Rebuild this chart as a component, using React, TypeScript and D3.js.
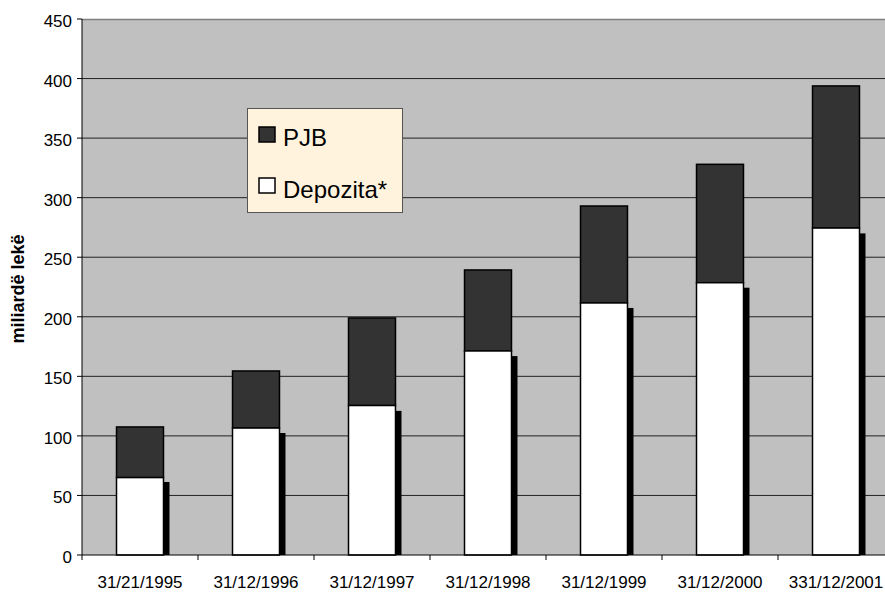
import React from "react";
import * as d3 from "d3";

const categories = ["31/21/1995", "31/12/1996", "31/12/1997", "31/12/1998", "31/12/1999", "31/12/2000", "331/12/2001"];
const depozita = [65, 106.6, 125.5, 171.3, 211.6, 228.6, 274.5];
const pjbTotal = [107.5, 154.5, 199, 239.3, 293, 328, 393.8];
const shadow = [61.3, 102.4, 121, 167, 207.4, 224.4, 270];
const yTicks = [0, 50, 100, 150, 200, 250, 300, 350, 400, 450];

const W = 885;
const H = 593;
const M = { left: 82, top: 19, right: 894, bottom: 555 };
const font = "'Liberation Sans', Arial, sans-serif";

export default function App() {
  const x = d3.scaleBand<string>().domain(categories).range([M.left, M.right]).paddingInner(0.595).paddingOuter(0.2975);
  const y = d3.scaleLinear().domain([0, 450]).range([M.bottom, M.top]);
  const bw = x.bandwidth();
  const step = x.step();
  const off = 6;
  return (
    <svg width={W} height={H} style={{ position: "absolute", left: 0, top: 0 }} fontFamily={font}>
      <rect x={M.left} y={M.top} width={M.right - M.left} height={M.bottom - M.top} fill="#C0C0C0" />
      <line x1={M.left} x2={M.right} y1={M.top + 0.5} y2={M.top + 0.5} stroke="#808080" strokeWidth={1.5} />
      {yTicks.filter((t) => t > 0 && t < 450).map((t) => (
        <line key={t} x1={M.left} x2={M.right} y1={y(t)} y2={y(t)} stroke="#222" strokeWidth={1} />
      ))}
      {categories.map((c, i) => {
        const bx = x(c)!;
        return (
          <g key={c}>
            <rect x={bx + off} y={y(shadow[i])} width={bw} height={y(0) - y(shadow[i])} fill="#000" />
            <rect x={bx} y={y(pjbTotal[i])} width={bw} height={y(depozita[i]) - y(pjbTotal[i])} fill="#333333" stroke="#000" strokeWidth={1.5} />
            <rect x={bx} y={y(depozita[i])} width={bw} height={y(0) - y(depozita[i])} fill="#FFFFFF" stroke="#000" strokeWidth={1.5} />
          </g>
        );
      })}
      <line x1={M.left} x2={M.left} y1={M.top} y2={M.bottom} stroke="#000" strokeWidth={1} />
      <line x1={M.left} x2={M.right} y1={M.bottom} y2={M.bottom} stroke="#000" strokeWidth={1} />
      {yTicks.map((t) => (
        <g key={t}>
          <line x1={M.left - 5} x2={M.left} y1={y(t)} y2={y(t)} stroke="#000" />
          <text x={M.left - 10} y={y(t) + 8} textAnchor="end" fontSize={17} fill="#000">{t}</text>
        </g>
      ))}
      {categories.map((c, i) => (
        <g key={c}>
          <line x1={M.left + i * step} x2={M.left + i * step} y1={M.bottom} y2={M.bottom + 5} stroke="#000" />
          <text x={x(c)! + bw / 2} y={588} textAnchor="middle" fontSize={17} fill="#000">{c}</text>
        </g>
      ))}
      <text transform={`translate(24,289) rotate(-90)`} textAnchor="middle" fontSize={18} fontWeight="bold" fill="#000">miliardë lekë</text>
      <g>
        <rect x={247.5} y={108.5} width={155} height={104} fill="#FFF3DE" stroke="#555" strokeWidth={1} />
        <rect x={259} y={127} width={16} height={15} fill="#333333" stroke="#000" strokeWidth={1.5} />
        <text x={283} y={146} fontSize={24} fill="#000">PJB</text>
        <rect x={259} y={178} width={16} height={15} fill="#FFFFFF" stroke="#000" strokeWidth={1.5} />
        <text x={283} y={198} fontSize={24} fill="#000">Depozita*</text>
      </g>
    </svg>
  );
}
